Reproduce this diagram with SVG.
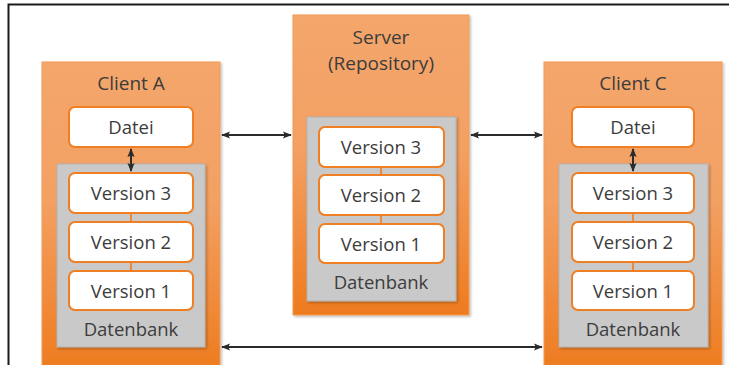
<svg xmlns="http://www.w3.org/2000/svg" width="731" height="365" viewBox="0 0 731 365">
  <defs>
    <linearGradient id="orangeFill" x1="0" y1="0" x2="0" y2="1">
      <stop offset="0" stop-color="#F4A66C"/>
      <stop offset="0.45" stop-color="#F3A063"/>
      <stop offset="1" stop-color="#EE7B1E"/>
    </linearGradient>
    <filter id="shadow" x="-10%" y="-10%" width="125%" height="125%">
      <feDropShadow dx="1.5" dy="1.5" stdDeviation="1.2" flood-color="#000" flood-opacity="0.25"/>
    </filter>
    <marker id="arrow" viewBox="0 0 10 10" refX="9" refY="5" markerWidth="4.5" markerHeight="4.5" orient="auto-start-reverse" markerUnits="strokeWidth">
      <path d="M0,1 L10,5 L0,9 L2,5 Z" fill="#2b2b2b"/>
    </marker>
  </defs>
  <style>
    .outer { fill: url(#orangeFill); stroke: #F19A55; stroke-width: 1; filter: url(#shadow); }
    .db { fill: #C9C9C9; stroke: #B3B3B3; stroke-width: 1; filter: url(#shadow); }
    .item { fill: #FFFFFF; stroke: #EF7F22; stroke-width: 2; }
    .link { stroke: #E98A3E; stroke-width: 2; }
    .conn { stroke: #2b2b2b; stroke-width: 2; fill: none; marker-start: url(#arrow); marker-end: url(#arrow); }
    text { font-family: "Open Sans", "Noto Sans", "Liberation Sans", sans-serif; fill: #3c3c3c; text-anchor: middle; }
    .title { font-size: 19px; }
    .label { font-size: 18.5px; }
  </style>

  <rect width="731" height="365" fill="#FFFFFF"/>
  <!-- outer frame -->
  <path d="M8.5,365 V4.5 H729" fill="none" stroke="#1a1a1a" stroke-width="2"/>

  <!-- Client A -->
  <g id="client-a">
    <rect class="outer" x="42" y="62" width="178" height="310"/>
    <text class="title" x="131" y="90">Client A</text>
    <rect class="item" x="69" y="107" width="124" height="40" rx="6"/>
    <text class="label" x="131" y="134">Datei</text>
    <rect class="db" x="57" y="164" width="148" height="183"/>
    <line class="link" x1="131" y1="213" x2="131" y2="222"/>
    <line class="link" x1="131" y1="262" x2="131" y2="271"/>
    <rect class="item" x="69" y="173" width="124" height="40" rx="6"/>
    <text class="label" x="131" y="200">Version 3</text>
    <rect class="item" x="69" y="222" width="124" height="40" rx="6"/>
    <text class="label" x="131" y="249">Version 2</text>
    <rect class="item" x="69" y="271" width="124" height="39" rx="6"/>
    <text class="label" x="131" y="298">Version 1</text>
    <text class="label" x="131" y="336">Datenbank</text>
  </g>

  <!-- Server (Repository) -->
  <g id="server">
    <rect class="outer" x="293" y="15" width="176" height="300"/>
    <text class="title" x="381" y="44">Server</text>
    <text class="title" x="381" y="70">(Repository)</text>
    <rect class="db" x="307" y="117" width="149" height="184"/>
    <line class="link" x1="381" y1="167" x2="381" y2="175"/>
    <line class="link" x1="381" y1="215" x2="381" y2="224"/>
    <rect class="item" x="319" y="127" width="125" height="40" rx="6"/>
    <text class="label" x="381" y="154">Version 3</text>
    <rect class="item" x="319" y="175" width="125" height="40" rx="6"/>
    <text class="label" x="381" y="202">Version 2</text>
    <rect class="item" x="319" y="224" width="125" height="39" rx="6"/>
    <text class="label" x="381" y="251">Version 1</text>
    <text class="label" x="381" y="289">Datenbank</text>
  </g>

  <!-- Client C -->
  <g id="client-c">
    <rect class="outer" x="544" y="62" width="178" height="310"/>
    <text class="title" x="633" y="90">Client C</text>
    <rect class="item" x="572" y="107" width="122" height="40" rx="6"/>
    <text class="label" x="633" y="134">Datei</text>
    <rect class="db" x="559" y="164" width="149" height="183"/>
    <line class="link" x1="633" y1="213" x2="633" y2="222"/>
    <line class="link" x1="633" y1="262" x2="633" y2="271"/>
    <rect class="item" x="572" y="173" width="122" height="40" rx="6"/>
    <text class="label" x="633" y="200">Version 3</text>
    <rect class="item" x="572" y="222" width="122" height="40" rx="6"/>
    <text class="label" x="633" y="249">Version 2</text>
    <rect class="item" x="572" y="271" width="122" height="39" rx="6"/>
    <text class="label" x="633" y="298">Version 1</text>
    <text class="label" x="633" y="336">Datenbank</text>
  </g>

  <!-- connectors -->
  <g id="connectors">
    <line class="conn" x1="222" y1="135" x2="291" y2="135"/>
    <line class="conn" x1="471" y1="135" x2="542" y2="135"/>
    <line class="conn" x1="222" y1="347" x2="542" y2="347"/>
    <line class="conn" x1="131" y1="149" x2="131" y2="171"/>
    <line class="conn" x1="633" y1="149" x2="633" y2="171"/>
  </g>
</svg>
